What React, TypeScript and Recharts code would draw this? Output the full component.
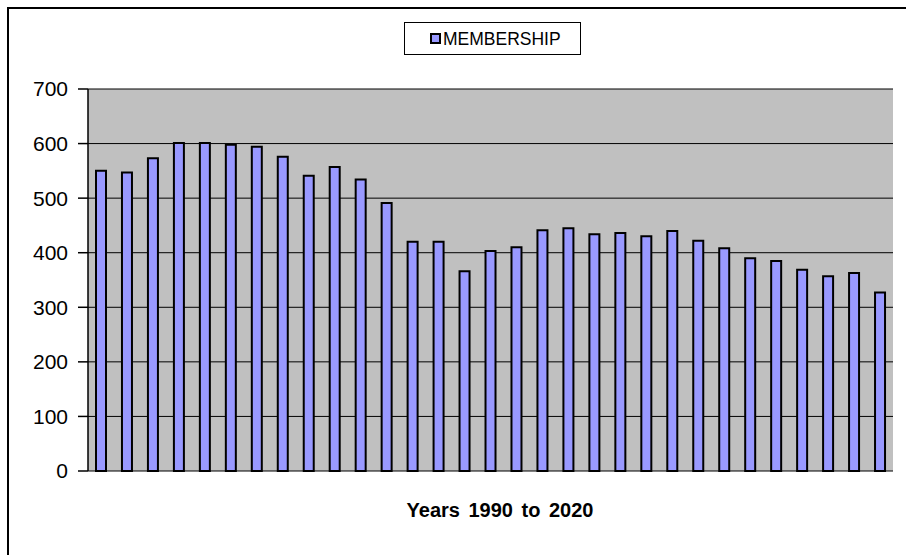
import React from 'react';
import { BarChart, Bar, XAxis, YAxis, CartesianGrid, Legend } from 'recharts';

const years: string[] = [
  '1990', '1991', '1992', '1993', '1994', '1995', '1996', '1997', '1998', '1999',
  '2000', '2001', '2002', '2003', '2004', '2005', '2006', '2007', '2008', '2009',
  '2010', '2011', '2012', '2013', '2014', '2015', '2016', '2017', '2018', '2019', '2020',
];

const membership: number[] = [
  550, 547, 573, 601, 601, 598, 594, 576, 541, 557,
  534, 491, 420, 420, 366, 403, 410, 441, 445, 434,
  436, 430, 440, 422, 408, 390, 385, 369, 357, 363, 327,
];

const yTicks: number[] = [0, 100, 200, 300, 400, 500, 600, 700];

const seriesName = 'MEMBERSHIP';
const axisTitle = 'Years 1990 to 2020';

const data = years.map((y, i) => ({ year: y, value: membership[i] }));

const FONT = '"Liberation Sans", Arial, sans-serif';

const LegendBox = () => (
  <svg width={177} height={33} style={{ display: 'block' }}>
    <rect x={0.5} y={0.5} width={176} height={32} fill="#fff" stroke="#000" strokeWidth={1} />
    <rect x={27} y={12} width={9} height={9} fill="#9999FF" stroke="#000" strokeWidth={2} />
    <text x={39} y={23} fontFamily={FONT} fontSize={17.5} fill="#000">
      {seriesName}
    </text>
  </svg>
);

export default function App() {
  return (
    <div
      style={{
        position: 'absolute',
        left: 0,
        top: 0,
        width: 906,
        height: 555,
        background: '#fff',
        overflow: 'hidden',
      }}
    >
      <div
        style={{
          position: 'absolute',
          left: 7,
          top: 7,
          width: 920,
          height: 570,
          borderLeft: '2px solid #000',
          borderTop: '2px solid #000',
        }}
      />
      <div style={{ position: 'absolute', left: 0, top: 0 }}>
        <BarChart
          width={906}
          height={555}
          data={data}
          margin={{ top: 89, right: 13, bottom: 84, left: 0 }}
        >
          <CartesianGrid vertical={false} stroke="#000" strokeWidth={1} fill="#C0C0C0" fillOpacity={1} />
          <XAxis
            dataKey="year"
            xAxisId={0}
            height={0}
            tick={false}
            tickLine={false}
            axisLine={{ stroke: '#808080', strokeWidth: 1.5 }}
          />
          <XAxis
            dataKey="year"
            xAxisId="top"
            orientation="top"
            height={0}
            tick={false}
            tickLine={false}
            axisLine={{ stroke: '#808080', strokeWidth: 1.5 }}
          />
          <YAxis
            yAxisId={0}
            width={88}
            domain={[0, 700]}
            ticks={yTicks}
            interval={0}
            tickSize={10}
            tickMargin={10}
            tick={{ fontFamily: FONT, fontSize: 21, fill: '#000' }}
            tickLine={{ stroke: '#000', strokeWidth: 1.5 }}
            axisLine={{ stroke: '#000', strokeWidth: 1.5 }}
          />
          <YAxis
            yAxisId="right"
            orientation="right"
            width={0}
            domain={[0, 700]}
            tick={false}
            tickLine={false}
            axisLine={{ stroke: '#808080', strokeWidth: 1.5 }}
          />
          <Legend
            layout="horizontal"
            verticalAlign="middle"
            align="center"
            content={() => <LegendBox />}
            wrapperStyle={{ position: 'absolute', left: 404, top: 22, width: 177, height: 33 }}
          />
          <Bar
            dataKey="value"
            name={seriesName}
            xAxisId={0}
            yAxisId={0}
            barSize={10}
            fill="#9999FF"
            stroke="#000"
            strokeWidth={2}
            isAnimationActive={false}
          />
        </BarChart>
      </div>
      <svg
        width={906}
        height={555}
        style={{ position: 'absolute', left: 0, top: 0, pointerEvents: 'none' }}
      >
        <text
          x={500}
          y={517}
          textAnchor="middle"
          fontFamily={FONT}
          fontSize={20}
          fontWeight="bold"
          fill="#000"
          style={{ wordSpacing: 3 }}
        >
          {axisTitle}
        </text>
      </svg>
    </div>
  );
}
